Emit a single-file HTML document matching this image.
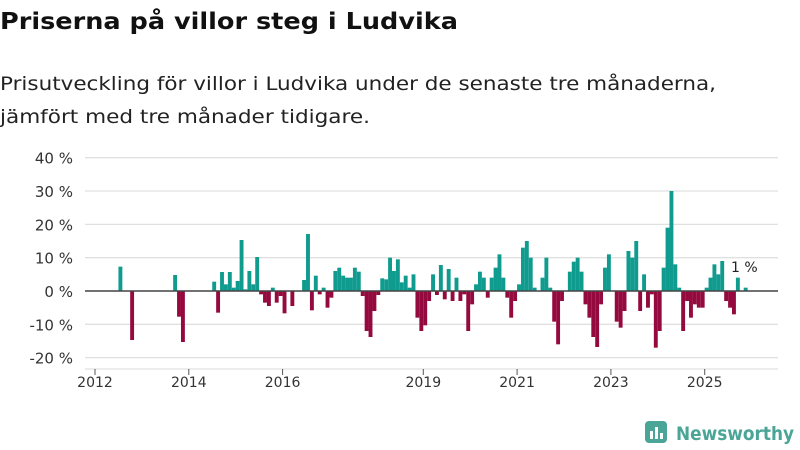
<!DOCTYPE html>
<html><head><meta charset="utf-8"><style>
body{margin:0;background:#fff;}
svg{display:block;font-family:"DejaVu Sans","Liberation Sans",sans-serif;}
</style></head><body>
<svg id="c" width="800" height="450" viewBox="0 0 800 450">
<text x="0" y="29" font-size="23" font-weight="bold" fill="#111" textLength="458" lengthAdjust="spacingAndGlyphs">Priserna på villor steg i Ludvika</text>
<text x="0" y="90" font-size="19" fill="#222" textLength="716" lengthAdjust="spacingAndGlyphs">Prisutveckling för villor i Ludvika under de senaste tre månaderna,</text>
<text x="0" y="123" font-size="19" fill="#222" textLength="370" lengthAdjust="spacingAndGlyphs">jämfört med tre månader tidigare.</text>
<g id="grid"></g><g id="bars"></g><g id="axes"></g>
<text x="731" y="272" font-size="14" fill="#222">1 %</text>
<g>
<rect x="645" y="421" width="22" height="22" rx="4" fill="#4aa597"/>
<rect x="650" y="431" width="3" height="8" fill="#fff"/><rect x="655" y="427" width="3" height="12" fill="#fff"/><rect x="660" y="433" width="3" height="6" fill="#fff"/>
<text x="676" y="440" font-size="19" font-weight="bold" fill="#4aa597" textLength="118" lengthAdjust="spacingAndGlyphs">Newsworthy</text>
</g>
</svg>
<script>
const startYear = 2012;
const values = [null,null,null,null,null,null,7.3,null,null,-14.7,
null,null,null,null,null,null,null,null,null,null,
4.8,-7.7,-15.3,null,null,null,null,null,null,null,
2.8,-6.5,5.7,2,5.7,1,3,15.3,0.5,6,
2,10.2,-1,-3.5,-4.5,1,-3.5,-1.5,-6.7,0,
-4.5,0,0,3.3,17.1,-5.8,4.6,-1,1,-5,
-2,6,7,4.6,4,4,7,5.8,-1.5,-12,
-13.8,-6,-1.2,3.8,3.5,10,6,9.5,2.6,4.6,
1,5,-8,-12,-10.3,-3,5,-1.2,7.8,-2.5,
6.6,-3,4,-3,-1,-12,-4,2,5.8,4,
-2,4,7,11,4,-2,-8,-3,2,13,
15,10,1,0,4,10,1,-9.2,-16,-3,
0,5.8,8.8,10,5.8,-4,-8,-13.8,-16.8,-4,
7,11,0,-9.2,-11,-6,12,10,15,-6,
5,-5,-1,-17,-12,7,19,30,8,1,
-12,-3,-8,-4,-5,-5,1,4,8,5,
9,-3,-5,-7,4,0,1];
const yTicks = [40,30,20,10,0,-10,-20];
const xTickYears = [2012,2014,2016,2019,2021,2023,2025];
const NS="http://www.w3.org/2000/svg";
const y = v => 291 - v*3.333;
const xYear = yr => 95 + (yr-startYear)*46.9;
const xMonth = i => 95 + i*3.908;
function mk(t,a,p){const e=document.createElementNS(NS,t);for(const k in a)e.setAttribute(k,a[k]);p.appendChild(e);return e;}
const grid=document.getElementById('grid'),bars=document.getElementById('bars'),axes=document.getElementById('axes');
yTicks.forEach(t=>{
  const l=mk('line',{x1:85,x2:778,y1:y(t),y2:y(t),stroke:t===0?'#444':'#e0e0e0','stroke-width':t===0?1.5:1.3},t===0?axes:grid);
  
  
  const tx=mk('text',{x:73,y:y(t)+6,'text-anchor':'end','font-size':15,fill:'#333'},axes);
  tx.textContent=t+' %';
  
  
});
const base=mk('line',{x1:85,x2:778,y1:369,y2:369,stroke:'#e0e0e0','stroke-width':1.3},axes);


xTickYears.forEach(yr=>{
  const tk=mk('line',{x1:xYear(yr),x2:xYear(yr),y1:369,y2:375,stroke:'#555'},axes);
  
  
  const tx=mk('text',{x:xYear(yr),y:387,'text-anchor':'middle','font-size':14,fill:'#333'},axes);
  tx.textContent=yr;
  
  
});
values.forEach((v,i)=>{
  if(v===null||v===0)return;
  const r=mk('rect',{x:xMonth(i),width:3.9,y:Math.min(y(v),y(0)),height:Math.abs(y(v)-y(0)),fill:v>0?'#109b8f':'#950a3e'},bars);
  
  
});
</script>
</body></html>
